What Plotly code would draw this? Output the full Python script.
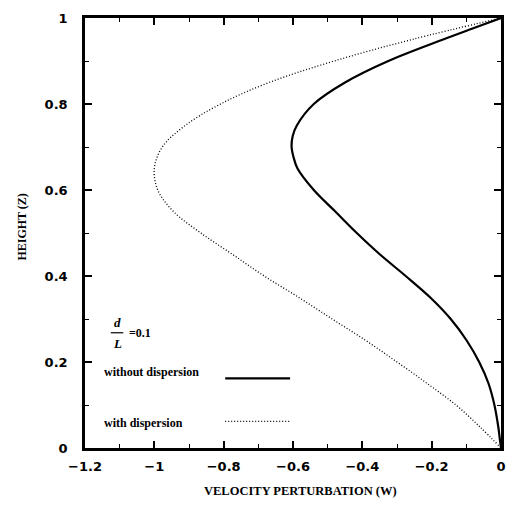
import plotly.graph_objects as go

# Without dispersion (solid)
z_solid = [0.0, 0.025, 0.05, 0.10, 0.15, 0.20, 0.25, 0.30, 0.35, 0.40, 0.45, 0.50, 0.55, 0.60, 0.65,
           0.675, 0.70, 0.725, 0.75, 0.80, 0.85, 0.90, 0.95, 0.975, 1.0]
w_solid = [0.0, -0.004, -0.008, -0.019, -0.036, -0.063, -0.099, -0.145, -0.204, -0.275, -0.349, -0.416,
           -0.478, -0.540, -0.587, -0.598, -0.604, -0.601, -0.589, -0.540, -0.450, -0.325, -0.167, -0.084, 0.0]

# With dispersion (dotted)
z_dot = [0.0, 0.05, 0.10, 0.15, 0.20, 0.25, 0.30, 0.35, 0.40, 0.45, 0.50, 0.55, 0.60, 0.65, 0.70,
         0.75, 0.80, 0.85, 0.90, 0.95, 1.0]
w_dot = [0.0, -0.062, -0.130, -0.213, -0.300, -0.390, -0.487, -0.583, -0.683, -0.774, -0.866, -0.945,
         -0.990, -1.000, -0.977, -0.911, -0.809, -0.669, -0.481, -0.257, 0.0]

x_ticks = [-1.2, -1.0, -0.8, -0.6, -0.4, -0.2, 0.0]
x_ticktext = ["\u22121.2", "\u22121", "\u22120.8", "\u22120.6", "\u22120.4", "\u22120.2", "0"]
y_ticks = [0.0, 0.2, 0.4, 0.6, 0.8, 1.0]
y_ticktext = ["0", "0.2", "0.4", "0.6", "0.8", "1"]

fig = go.Figure()
fig.add_trace(go.Scatter(x=w_solid, y=z_solid, mode="lines",
                         line=dict(color="black", width=2.2, shape="spline", smoothing=1.0),
                         showlegend=False, hoverinfo="skip"))
fig.add_trace(go.Scatter(x=w_dot, y=z_dot, mode="lines",
                         line=dict(color="black", width=1.3, dash="1px,2px", shape="spline", smoothing=1.0),
                         showlegend=False, hoverinfo="skip"))

tickfont = dict(family="DejaVu Sans", size=13, color="black", weight="bold")
serif = "Liberation Serif"

fig.update_xaxes(range=[-1.2, 0], tickvals=x_ticks, ticktext=x_ticktext, ticks="inside", ticklen=7,
                 tickwidth=1.5, tickcolor="black", showline=True, linewidth=2.5, linecolor="black",
                 mirror="ticks", showgrid=False, zeroline=False, tickfont=tickfont, ticklabelstandoff=5,
                 ticklabeloverflow="allow",
                 minor=dict(dtick=0.1, tick0=0, ticks="inside", ticklen=4, tickwidth=1.2, tickcolor="black"))
fig.update_yaxes(range=[0, 1], tickvals=y_ticks, ticktext=y_ticktext, ticks="inside", ticklen=7,
                 tickwidth=1.5, tickcolor="black", showline=True, linewidth=2.5, linecolor="black",
                 mirror="ticks", showgrid=False, zeroline=False, tickfont=tickfont, ticklabelstandoff=12,
                 ticklabeloverflow="allow",
                 minor=dict(dtick=0.1, tick0=0, ticks="inside", ticklen=4, tickwidth=1.2, tickcolor="black"))

ann = [
    dict(text="<b>VELOCITY PERTURBATION (W)</b>", x=0.519, y=-0.101, xref="paper", yref="paper",
         showarrow=False, font=dict(family=serif, size=12.5, color="black"), xanchor="center", yanchor="middle"),
    dict(text="<b>HEIGHT (Z)</b>", x=-0.151, y=0.513, xref="paper", yref="paper", textangle=-90,
         showarrow=False, font=dict(family=serif, size=12, color="black"), xanchor="center", yanchor="middle"),
    dict(text="<b><i>d</i></b>", x=0.077, y=0.292, xref="paper", yref="paper", showarrow=False,
         font=dict(family=serif, size=13, color="black"), xanchor="center", yanchor="middle"),
    dict(text="<b><i>L</i></b>", x=0.077, y=0.244, xref="paper", yref="paper", showarrow=False,
         font=dict(family=serif, size=13, color="black"), xanchor="center", yanchor="middle"),
    dict(text="<b>=0.1</b>", x=0.1, y=0.267, xref="paper", yref="paper", showarrow=False,
         font=dict(family=serif, size=12, color="black"), xanchor="left", yanchor="middle"),
    dict(text="<b>without dispersion</b>", x=0.04, y=0.177, xref="paper", yref="paper", showarrow=False,
         font=dict(family=serif, size=12, color="black"), xanchor="left", yanchor="middle"),
    dict(text="<b>with dispersion</b>", x=0.041, y=0.0575, xref="paper", yref="paper", showarrow=False,
         font=dict(family=serif, size=12, color="black"), xanchor="left", yanchor="middle"),
]

shapes = [
    dict(type="line", xref="paper", yref="paper", x0=0.062, x1=0.092, y0=0.268, y1=0.268,
         line=dict(color="black", width=1.2)),
    dict(type="line", xref="paper", yref="paper", x0=0.337, x1=0.493, y0=0.162, y1=0.162,
         line=dict(color="black", width=2.2)),
    dict(type="line", xref="paper", yref="paper", x0=0.337, x1=0.493, y0=0.062, y1=0.062,
         line=dict(color="black", width=1.3, dash="1px,2px")),
]

fig.update_layout(width=517, height=515, margin=dict(l=77, r=24, t=3, b=75),
                  paper_bgcolor="white", plot_bgcolor="white", annotations=ann, shapes=shapes,
                  showlegend=False)

fig.write_html("out.html")
